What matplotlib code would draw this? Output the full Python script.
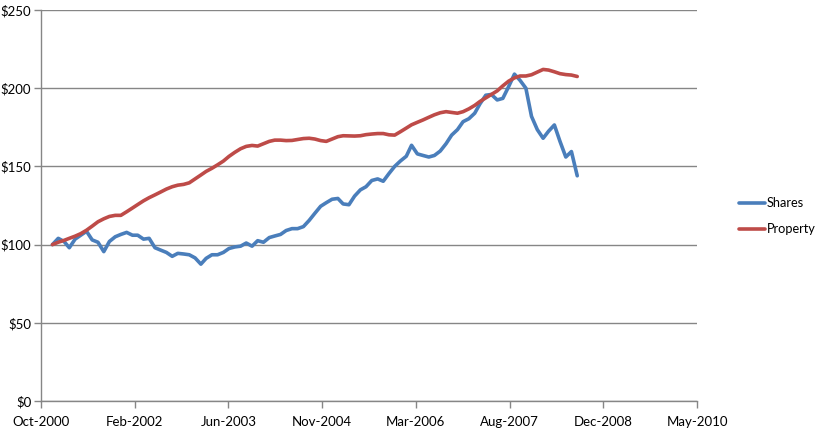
import numpy as np
import pandas as pd
import matplotlib
matplotlib.use("Agg")
import matplotlib.pyplot as plt
import matplotlib.dates as mdates
from matplotlib.ticker import FuncFormatter

# monthly values, Dec-2000 .. Aug-2008 (index = 100 at start)
months = pd.date_range("2000-12-01", periods=93, freq="MS")

shares = [100, 104, 102, 98, 103.5, 106, 108.5, 103, 101.5, 95.5,
          102, 105, 106.5, 107.8, 106, 106, 103.5, 104, 98, 96.5,
          95, 92.5, 94.4, 94, 93.5, 91.5, 87.5, 91.2, 93.5, 93.5,
          95, 97.5, 98.5, 99, 101, 99, 102.5, 101.5, 104.5, 105.5,
          106.5, 109, 110.2, 110.2, 111.5, 115.5, 120, 124.5, 126.8, 129,
          129.5, 126, 125.5, 131, 135, 137, 141, 142, 140.5, 145.5,
          150, 153.5, 156.5, 163.5, 158, 157, 156, 157, 159.8, 164.5,
          170, 173.5, 178.6, 180.5, 184, 190, 195.5, 196, 192.5, 193.5,
          201, 209, 205, 200, 182, 173.5, 168, 172.5, 176.5, 166,
          156, 159.5, 144]

prop = [100, 101.5, 102.7, 104, 105.4, 107, 109.2, 111.8, 114.6, 116.5,
        118, 118.7, 118.7, 121, 123.4, 125.6, 128, 130, 131.8, 133.6,
        135.5, 137, 138, 138.5, 139.5, 142, 144.5, 146.8, 148.8, 151,
        153.4, 156.4, 159, 161.3, 162.8, 163.4, 163, 164.5, 166, 166.8,
        166.8, 166.5, 166.6, 167.2, 167.8, 168, 167.5, 166.5, 166, 167.5,
        169, 169.6, 169.5, 169.4, 169.6, 170.3, 170.7, 171, 171, 170.2,
        170, 172.2, 174.5, 176.6, 178.2, 179.7, 181.4, 183, 184.3, 185,
        184.5, 184, 185, 186.8, 189, 191.5, 193.8, 196, 198.3, 201.5,
        204.5, 206.6, 207.8, 207.8, 208.6, 210.3, 212, 211.6, 210.5, 209.3,
        208.7, 208.4, 207.5]

y_ticks = [0, 50, 100, 150, 200, 250]

plt.rcParams['font.family'] = ['Lato', 'DejaVu Sans']

fig = plt.figure(figsize=(8.23, 4.29), dpi=100)
ax = fig.add_axes([41 / 823, 1 - 401 / 429, 656 / 823, 391 / 429])

x = mdates.date2num(months)
l1, = ax.plot(x, shares, color='#4A7EBB', lw=2.6, solid_joinstyle='round',
              solid_capstyle='round', label='Shares')
l2, = ax.plot(x, prop, color='#BE4B48', lw=2.6, solid_joinstyle='round',
              solid_capstyle='round', label='Property')

# excel-style date axis: 500 day major unit
d0 = mdates.date2num(np.datetime64("2000-10-01"))
ax.set_xlim(d0, d0 + 3500)
ax.set_xticks([d0 + 500 * k for k in range(8)])
ax.xaxis.set_major_formatter(mdates.DateFormatter('%b-%Y'))

ax.set_ylim(0, 250)
ax.set_yticks(y_ticks)
ax.yaxis.set_major_formatter(FuncFormatter(lambda v, p: "$%d" % v))

ax.grid(axis='y', color='#868686', lw=1)
ax.set_axisbelow(True)
for s in ['top', 'right']:
    ax.spines[s].set_visible(False)
for s in ['left', 'bottom']:
    ax.spines[s].set_color('#868686')
    ax.spines[s].set_linewidth(1)
ax.tick_params(axis='both', colors='#868686', labelcolor='black',
               labelsize=9.5, length=5, width=1, direction='out')
ax.tick_params(axis='x', pad=6)
ax.tick_params(axis='y', pad=2)

fig.legend(handles=[l1, l2], loc='center left', bbox_to_anchor=(739 / 823, 1 - 216 / 429),
           frameon=False, fontsize=9.2, handlelength=2.0, handletextpad=0.15,
           labelspacing=1.1, borderpad=0, borderaxespad=0)

fig.savefig("out.png", dpi=100)
